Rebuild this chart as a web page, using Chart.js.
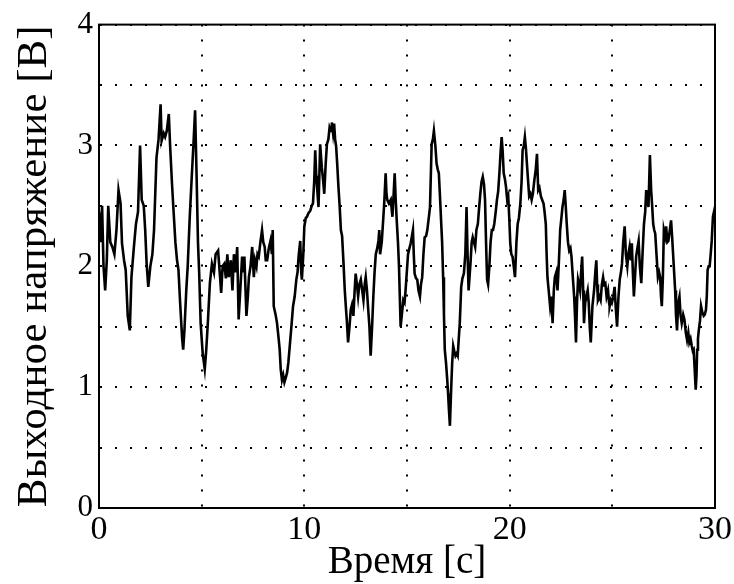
<!DOCTYPE html>
<html>
<head>
<meta charset="utf-8">
<script src="https://cdn.jsdelivr.net/npm/chart.js@4.4.0/dist/chart.umd.min.js"></script>
<style>
  html, body { margin: 0; padding: 0; background: #fff; }
  #wrap { width: 734px; height: 584px; }
</style>
</head>
<body>
<div id="wrap"><canvas id="chart"></canvas></div>
<script>
// time, s
const times = [
  0.0, 0.08, 0.15, 0.22, 0.3, 0.38, 0.45, 0.55, 0.65, 0.75, 0.85, 0.95, 1.05, 1.12, 1.22, 1.3, 1.4, 1.5, 1.58, 1.7,
  1.8, 1.9, 2.0, 2.08, 2.18, 2.25, 2.32, 2.4, 2.5, 2.6, 2.68, 2.8, 2.9, 3.0, 3.05, 3.15, 3.22, 3.3, 3.4, 3.46,
  3.55, 3.62, 3.72, 3.8, 3.87, 3.95, 4.05, 4.1, 4.16, 4.25, 4.32, 4.42, 4.52, 4.6, 4.68, 4.75, 4.82, 4.88, 4.95, 5.05,
  5.15, 5.22, 5.3, 5.4, 5.5, 5.6, 5.68, 5.8, 5.9, 5.95,
  6.02, 6.1, 6.18, 6.25, 6.32, 6.42, 6.5, 6.57, 6.65, 6.73, 6.8, 6.88, 6.97, 7.02, 7.08, 7.18, 7.25, 7.3, 7.38, 7.46,
  7.54, 7.6, 7.67, 7.72, 7.78, 7.86, 7.94, 8.0, 8.07, 8.12, 8.19, 8.27, 8.35, 8.42, 8.46, 8.51, 8.6, 8.67, 8.75, 8.8,
  8.85, 8.91, 8.97, 9.03, 9.1, 9.16, 9.22, 9.29, 9.37, 9.45, 9.53, 9.61, 9.67, 9.72, 9.8, 9.85, 9.88, 9.95, 10.0, 10.07,
  10.13, 10.2, 10.29, 10.36, 10.42, 10.48, 10.53, 10.58, 10.61, 10.69, 10.74, 10.77, 10.85, 10.92, 10.97, 11.04, 11.1, 11.17, 11.23, 11.3,
  11.34, 11.4, 11.45, 11.5, 11.55, 11.6, 11.66, 11.72, 11.78, 11.84, 11.91, 11.97,
  12.02, 12.07, 12.13, 12.2, 12.26, 12.32, 12.39, 12.45, 12.5, 12.56, 12.62, 12.68, 12.75, 12.82, 12.88, 12.94, 12.99, 13.05, 13.1, 13.17,
  13.23, 13.3, 13.36, 13.42, 13.48, 13.55, 13.61, 13.65, 13.69, 13.77, 13.85, 13.9, 13.96, 14.0, 14.04, 14.12, 14.21, 14.25, 14.29, 14.35,
  14.4, 14.45, 14.5, 14.56, 14.61, 14.65, 14.69, 14.75, 14.82, 14.88, 14.93, 14.99, 15.05, 15.12, 15.18, 15.24, 15.29, 15.33, 15.37, 15.44,
  15.5, 15.56, 15.63, 15.68, 15.74, 15.8, 15.86, 15.93, 15.99, 16.06, 16.12, 16.16, 16.2, 16.26, 16.31, 16.38, 16.44, 16.5, 16.55, 16.6,
  16.66, 16.71, 16.76, 16.8, 16.84, 16.9, 16.96, 17.0, 17.04, 17.09, 17.15, 17.2, 17.25, 17.3, 17.36, 17.42, 17.47, 17.52, 17.57, 17.64,
  17.7, 17.77, 17.84, 17.9, 17.95,
  18.0, 18.09, 18.15, 18.2, 18.26, 18.32, 18.38, 18.45, 18.52, 18.57, 18.63, 18.69, 18.75, 18.8, 18.85, 18.9, 18.95, 19.01, 19.07, 19.13,
  19.19, 19.25, 19.32, 19.38, 19.44, 19.5, 19.56, 19.61, 19.66, 19.71, 19.77, 19.82, 19.88, 19.93, 19.98, 20.03, 20.08, 20.14, 20.2, 20.26,
  20.33, 20.39, 20.45, 20.52, 20.58, 20.63, 20.69, 20.74, 20.79, 20.84, 20.9, 20.95, 21.01, 21.07, 21.13, 21.2, 21.27, 21.33, 21.39, 21.45,
  21.52, 21.58, 21.65, 21.7, 21.76, 21.8, 21.84, 21.9, 21.97, 22.03, 22.09, 22.15, 22.2, 22.27, 22.33, 22.4, 22.46, 22.52, 22.57, 22.63,
  22.68, 22.73, 22.78, 22.84, 22.9, 22.96, 23.01, 23.08, 23.14, 23.18, 23.23, 23.28, 23.33, 23.38, 23.43, 23.48, 23.53, 23.58, 23.62, 23.68,
  23.74, 23.8, 23.85, 23.9, 23.95,
  24.03, 24.11, 24.17, 24.22, 24.26, 24.3, 24.37, 24.43, 24.49, 24.55, 24.6, 24.66, 24.72, 24.79, 24.84, 24.87, 24.93, 24.98, 25.05, 25.11,
  25.17, 25.23, 25.3, 25.36, 25.42, 25.47, 25.53, 25.6, 25.66, 25.73, 25.78, 25.84, 25.9, 25.95, 26.0, 26.05, 26.1, 26.16, 26.22, 26.28,
  26.34, 26.41, 26.47, 26.54, 26.6, 26.65, 26.7, 26.76, 26.83, 26.89, 26.94, 26.99, 27.04, 27.09, 27.15, 27.22, 27.28, 27.33, 27.37, 27.41,
  27.46, 27.51, 27.57, 27.62, 27.68, 27.73, 27.8, 27.86, 27.91, 27.96, 28.01, 28.06, 28.1, 28.15, 28.21, 28.27, 28.32, 28.38, 28.45, 28.51,
  28.58, 28.64, 28.7, 28.75, 28.81, 28.87, 28.92, 28.96, 29.01, 29.06, 29.1, 29.13, 29.17, 29.21, 29.27, 29.32, 29.38, 29.45, 29.5, 29.56,
  29.6, 29.64, 29.69, 29.74, 29.79, 29.84, 29.9, 29.95, 30.0
];

// output voltage, V
const volts = [
  2.45, 2.2, 2.5, 2.0, 1.8, 2.05, 2.5, 2.2, 2.16, 2.1, 2.3, 2.63, 2.52, 2.19, 2.05, 1.97, 1.59, 1.47, 1.91, 2.16,
  2.35, 2.45, 3.0, 2.55, 2.5, 2.3, 2.02, 1.83, 2.0, 2.1, 2.3, 2.9, 3.05, 3.34, 3.04, 3.1, 3.07, 3.12, 3.26, 3.01,
  2.7, 2.49, 2.2, 2.05, 1.97, 1.7, 1.4, 1.31, 1.47, 1.8, 2.0, 2.41, 2.75, 3.01, 3.29, 2.77, 2.2, 1.94, 1.53, 1.28,
  1.15, 1.3, 1.53, 1.86, 2.02, 1.95, 2.1, 2.13, 1.9, 1.78,
  2.0, 2.02, 1.9, 2.1, 1.91, 2.05, 1.8, 2.1, 1.95, 2.16, 1.56, 1.8, 2.08, 1.95, 2.08, 1.59, 1.75, 1.91, 2.0, 2.16,
  1.91, 2.05, 2.0, 2.1, 2.08, 2.2, 2.3, 2.2, 2.16, 2.05, 2.05, 2.15, 2.21, 2.1, 2.3, 1.67, 1.6, 1.53, 1.4, 1.31,
  1.15, 1.06, 1.1, 1.04, 1.08, 1.12, 1.2, 1.34, 1.5, 1.67, 1.75, 1.89, 1.95, 2.08, 2.21, 1.95, 1.89, 2.1, 2.33, 2.4,
  2.41, 2.44, 2.46, 2.5, 2.52, 2.7, 2.96, 2.75, 2.68, 2.49, 2.8, 3.01, 2.82, 2.7, 2.6, 2.85, 3.01, 3.05, 3.15, 3.12,
  3.19, 3.1, 3.18, 3.05, 2.99, 2.85, 2.66, 2.5, 2.3, 2.25, 2.02, 1.8,
  1.67, 1.55, 1.37, 1.5, 1.64, 1.68, 1.59, 1.8, 1.94, 1.85, 1.75, 1.85, 1.89, 1.8, 1.72, 1.85, 1.91, 1.8, 1.67, 1.5,
  1.26, 1.5, 1.75, 1.95, 2.1, 2.15, 2.21, 2.3, 2.1, 2.2, 2.41, 2.55, 2.77, 2.6, 2.55, 2.52, 2.55, 2.48, 2.41, 2.6,
  2.77, 2.55, 2.38, 2.2, 2.0, 1.75, 1.5, 1.6, 1.72, 1.7, 1.8, 1.95, 2.1, 2.15, 2.19, 2.25, 2.3, 2.1, 1.94, 1.9,
  1.89, 1.8, 1.75, 1.85, 1.91, 2.1, 2.24, 2.25, 2.3, 2.4, 2.49, 2.75, 3.01, 3.05, 3.12, 3.0, 2.85, 2.8, 2.77, 2.6,
  2.38, 2.2, 1.91, 1.6, 1.31, 1.2, 1.06, 0.95, 0.82, 0.68, 0.98, 1.2, 1.34, 1.3, 1.26, 1.28, 1.26, 1.4, 1.53, 1.83,
  1.9, 1.94, 2.1, 2.49, 2.1,
  1.8, 2.02, 2.2, 2.24, 2.2, 2.16, 2.3, 2.35, 2.5, 2.6, 2.7, 2.74, 2.68, 2.55, 2.2, 1.89, 1.85, 2.0, 2.2, 2.3,
  2.3, 2.35, 2.45, 2.55, 2.62, 2.77, 2.95, 3.07, 2.95, 2.77, 2.72, 2.66, 2.55, 2.58, 2.4, 2.19, 2.1, 2.08, 2.0, 1.91,
  2.2, 2.35, 2.4, 2.52, 2.7, 2.96, 3.0, 3.07, 2.98, 2.85, 2.7, 2.58, 2.6, 2.55, 2.6, 2.71, 2.8, 2.93, 2.63, 2.65,
  2.58, 2.55, 2.52, 2.45, 2.35, 2.1, 1.91, 1.8, 1.67, 1.75, 1.53, 1.8, 1.91, 1.95, 1.8, 2.05, 2.3, 2.4, 2.49, 2.55,
  2.63, 2.5, 2.35, 2.2, 2.13, 2.15, 2.08, 1.9, 1.75, 1.6, 1.37, 1.7, 1.89, 1.85, 1.8, 1.95, 2.08, 1.8, 1.53, 1.7,
  1.75, 1.8, 1.7, 1.5, 1.37,
  1.67, 1.8, 1.95, 2.05, 1.85, 1.72, 1.75, 1.72, 1.85, 1.91, 1.85, 1.86, 1.75, 1.8, 1.7, 1.67, 1.72, 1.7, 1.75, 1.83,
  1.65, 1.5, 1.75, 1.89, 1.95, 2.02, 2.2, 2.33, 2.1, 2.0, 2.1, 2.16, 2.05, 2.19, 1.95, 1.75, 1.9, 2.08, 2.15, 2.21,
  2.0, 1.86, 2.1, 2.35, 2.45, 2.63, 2.55, 2.49, 2.92, 2.63, 2.5, 2.35, 2.3, 2.27, 2.1, 1.91, 1.95, 1.91, 1.75, 1.67,
  1.9, 2.3, 2.25, 2.33, 2.2, 2.21, 2.3, 2.38, 2.25, 2.1, 1.95, 1.8, 1.6, 1.47, 1.7, 1.75, 1.6, 1.53, 1.6, 1.56,
  1.45, 1.39, 1.45, 1.37, 1.4, 1.34, 1.3, 1.31, 1.15, 0.98, 1.1, 1.31, 1.4, 1.47, 1.55, 1.67, 1.62, 1.59, 1.6, 1.64,
  1.75, 1.97, 2.0, 2.0, 2.1, 2.21, 2.41, 2.45, 2.4
];

const xTicks = [0, 10, 20, 30];
const yTicks = [0, 1, 2, 3, 4];

const serif = "'Liberation Serif', 'Times New Roman', serif";

// solid box around the plot area
const frame = {
  id: 'frame',
  afterDraw(chart) {
    const { ctx, chartArea: a } = chart;
    ctx.save();
    ctx.strokeStyle = '#000';
    ctx.lineWidth = 2;
    ctx.strokeRect(a.left, a.top, a.right - a.left, a.bottom - a.top);
    ctx.restore();
  }
};

const dotted = {
  color: '#000',
  lineWidth: 2,
  drawTicks: false
};

new Chart(document.getElementById('chart'), {
  type: 'scatter',
  data: {
    datasets: [{
      data: times.map((t, i) => ({ x: t, y: volts[i] })),
      showLine: true,
      borderColor: '#000',
      borderWidth: 2.6,
      pointRadius: 0,
      tension: 0
    }]
  },
  options: {
    responsive: true,
    maintainAspectRatio: false,
    animation: false,
    layout: { padding: { left: 0, right: 17, top: 22, bottom: 0 } },
    plugins: { legend: { display: false }, tooltip: { enabled: false } },
    scales: {
      x: {
        type: 'linear',
        min: 0,
        max: 30,
        grid: dotted,
        border: { display: true, color: '#000', width: 2, dash: [2, 13] },
        ticks: {
          stepSize: 5,
          padding: 2,
          color: '#000',
          font: { family: serif, size: 34 },
          maxRotation: 0,
          callback: (v) => (xTicks.includes(v) ? String(v) : '')
        },
        title: {
          display: true,
          text: 'Время [с]',
          color: '#000',
          font: { family: serif, size: 39, lineHeight: 1.0 },
          padding: { top: 0, bottom: 2 }
        },
        afterFit: (s) => { s.height = 76; }
      },
      y: {
        min: 0,
        max: 4,
        grid: dotted,
        border: { display: true, color: '#000', width: 2, dash: [2, 13] },
        ticks: {
          stepSize: 0.5,
          padding: 6,
          color: '#000',
          font: { family: serif, size: 31 },
          callback: (v) => (yTicks.includes(v) ? String(v) : '')
        },
        title: {
          display: true,
          text: 'Выходное напряжение [В]',
          color: '#000',
          font: { family: serif, size: 43, lineHeight: 1.1 },
          padding: { top: 11, bottom: 0 }
        },
        afterFit: (s) => { s.width = 99; }
      }
    }
  },
  plugins: [frame]
});
</script>
</body>
</html>
